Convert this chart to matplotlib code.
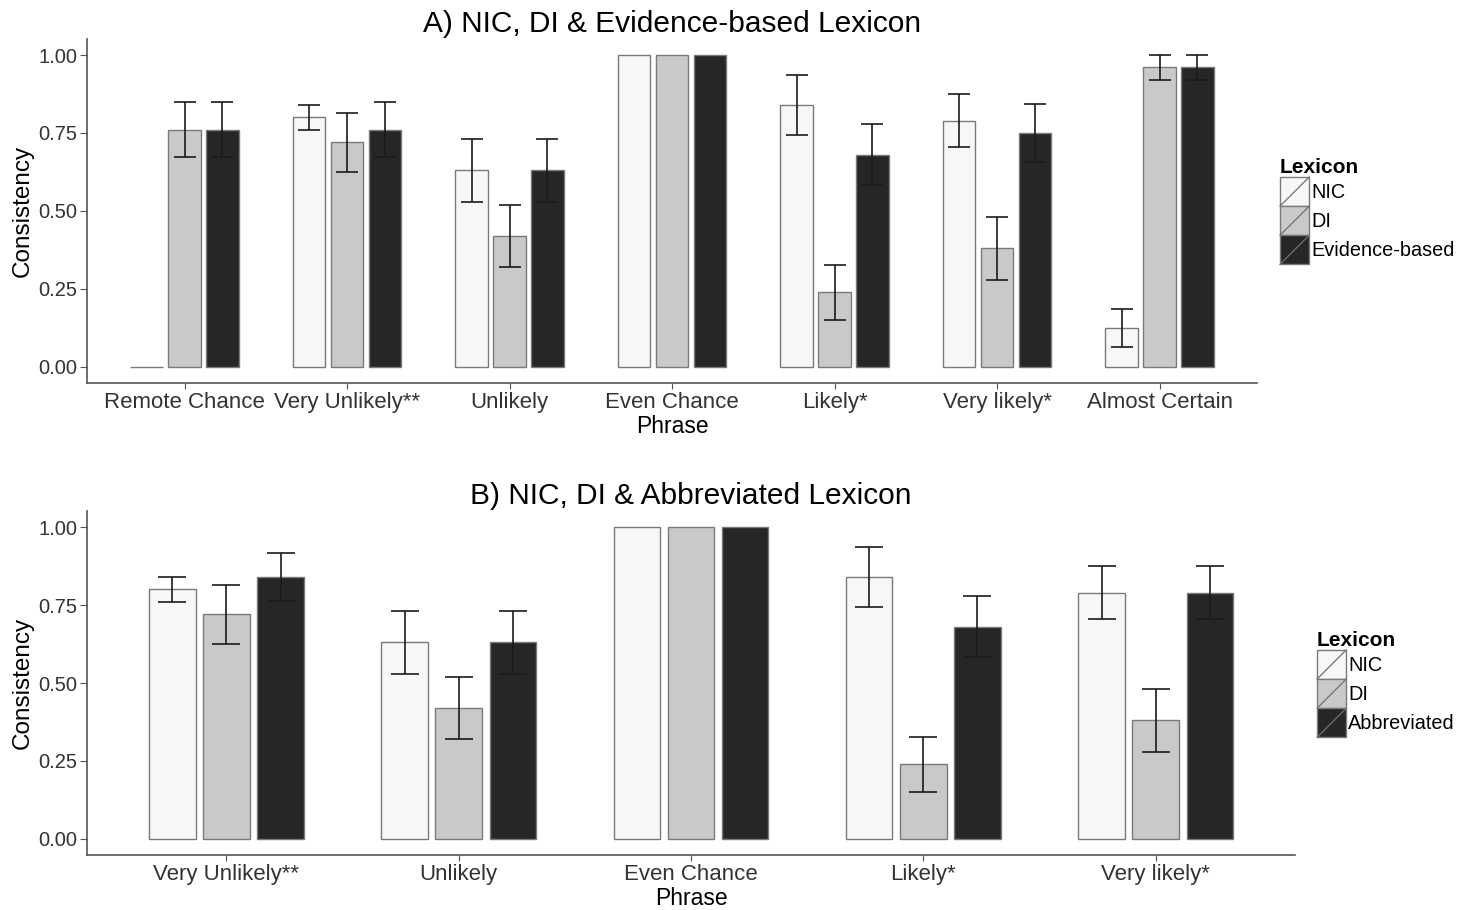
import matplotlib
matplotlib.use("Agg")
import matplotlib.pyplot as plt
import numpy as np
from matplotlib.patches import Patch, Rectangle
from matplotlib.lines import Line2D
from matplotlib.legend_handler import HandlerPatch

plt.rcParams['font.family'] = ['Liberation Sans', 'DejaVu Sans']

# Panel A: NIC, DI and evidence-based lexicon
phrases_a = ["Remote Chance", "Very Unlikely**", "Unlikely", "Even Chance",
             "Likely*", "Very likely*", "Almost Certain"]
nic_a = [0.0, 0.80, 0.63, 1.0, 0.84, 0.79, 0.125]
nic_a_err = [0.0, 0.04, 0.10, 0.0, 0.095, 0.085, 0.062]
di_a = [0.76, 0.72, 0.42, 1.0, 0.24, 0.38, 0.96]
di_a_err = [0.088, 0.095, 0.10, 0.0, 0.088, 0.10, 0.04]
evid_a = [0.76, 0.76, 0.63, 1.0, 0.68, 0.75, 0.96]
evid_a_err = [0.088, 0.088, 0.10, 0.0, 0.098, 0.093, 0.04]

# Panel B: NIC, DI and abbreviated lexicon
phrases_b = ["Very Unlikely**", "Unlikely", "Even Chance", "Likely*", "Very likely*"]
nic_b = [0.80, 0.63, 1.0, 0.84, 0.79]
nic_b_err = [0.04, 0.10, 0.0, 0.095, 0.085]
di_b = [0.72, 0.42, 1.0, 0.24, 0.38]
di_b_err = [0.095, 0.10, 0.0, 0.088, 0.10]
abbr_b = [0.84, 0.63, 1.0, 0.68, 0.79]
abbr_b_err = [0.076, 0.10, 0.0, 0.098, 0.085]

fills = ["#f7f7f7", "#c9c9c9", "#262626"]
edge = "#7a7a7a"
axis_col = "#555555"
text_col = "#333333"


class SlashBox(HandlerPatch):
    # filled key box with a thin diagonal stroke
    def create_artists(self, legend, orig_handle, xdescent, ydescent,
                       width, height, fontsize, trans):
        rect = Rectangle((-xdescent, -ydescent), width, height,
                         facecolor=orig_handle.get_facecolor(),
                         edgecolor=orig_handle.get_edgecolor(),
                         lw=1.0, transform=trans)
        slash = Line2D([-xdescent, -xdescent + width],
                       [-ydescent, -ydescent + height],
                       color="#707070", lw=0.9, transform=trans)
        return [rect, slash]


def draw_panel(ax, phrases, series, errors, names, title, capsize, legend_xy):
    x = np.arange(1, len(phrases) + 1)
    offsets = [-0.233, 0.0, 0.233]
    for vals, errs, off, col in zip(series, errors, offsets, fills):
        ax.bar(x + off, vals, width=0.2, color=col, edgecolor=edge,
               linewidth=1.0, zorder=2)
        vals = np.array(vals)
        errs = np.array(errs)
        m = errs > 0
        ax.errorbar(x[m] + off, vals[m], yerr=errs[m], fmt='none',
                    ecolor="#1a1a1a", elinewidth=1.2, capsize=capsize,
                    capthick=1.2, zorder=3)

    ax.set_xlim(0.4, len(phrases) + 0.6)
    ax.set_ylim(-0.05, 1.05)
    ax.set_yticks([0, 0.25, 0.5, 0.75, 1.0])
    ax.set_yticklabels(["0.00", "0.25", "0.50", "0.75", "1.00"])
    ax.set_xticks(x)
    ax.set_xticklabels(phrases)
    for s in ["top", "right"]:
        ax.spines[s].set_visible(False)
    for s in ["left", "bottom"]:
        ax.spines[s].set_color(axis_col)
        ax.spines[s].set_linewidth(1.2)
    ax.tick_params(axis='x', labelsize=16, colors=axis_col, labelcolor=text_col,
                   length=4, pad=3)
    ax.tick_params(axis='y', labelsize=14.5, colors=axis_col, labelcolor=text_col,
                   length=5, pad=2)
    ax.set_xlabel("Phrase", fontsize=16.5, labelpad=1)
    ax.set_ylabel("Consistency", fontsize=17.5, labelpad=3)
    ax.set_title(title, fontsize=21.5, pad=5)

    handles = [Patch(facecolor=c, edgecolor=edge) for c in fills]
    leg = fig.legend(handles, names, title="Lexicon", loc="upper left",
                     bbox_to_anchor=legend_xy, frameon=False, fontsize=14.3,
                     title_fontsize=15, handlelength=1.47, handleheight=1.88,
                     labelspacing=0.0, handletextpad=0.1, borderpad=0,
                     borderaxespad=0, alignment="left",
                     handler_map={Patch: SlashBox()})
    leg.get_title().set_fontweight("bold")


fig = plt.figure(figsize=(14.6, 9.1), dpi=100)
ax_a = fig.add_axes([0.0596, 0.5796, 0.861 - 0.0596, 0.9567 - 0.5796])
ax_b = fig.add_axes([0.0596, 0.0609, 0.887 - 0.0596, 0.438 - 0.0609])

draw_panel(ax_a, phrases_a, [nic_a, di_a, evid_a],
           [nic_a_err, di_a_err, evid_a_err],
           ["NIC", "DI", "Evidence-based"],
           "A) NIC, DI & Evidence-based Lexicon", 8, (1280 / 1460, 1 - 158 / 910))
draw_panel(ax_b, phrases_b, [nic_b, di_b, abbr_b],
           [nic_b_err, di_b_err, abbr_b_err],
           ["NIC", "DI", "Abbreviated"],
           "B) NIC, DI & Abbreviated Lexicon", 10, (1317 / 1460, 1 - 631 / 910))

fig.savefig("out.png", dpi=100)
